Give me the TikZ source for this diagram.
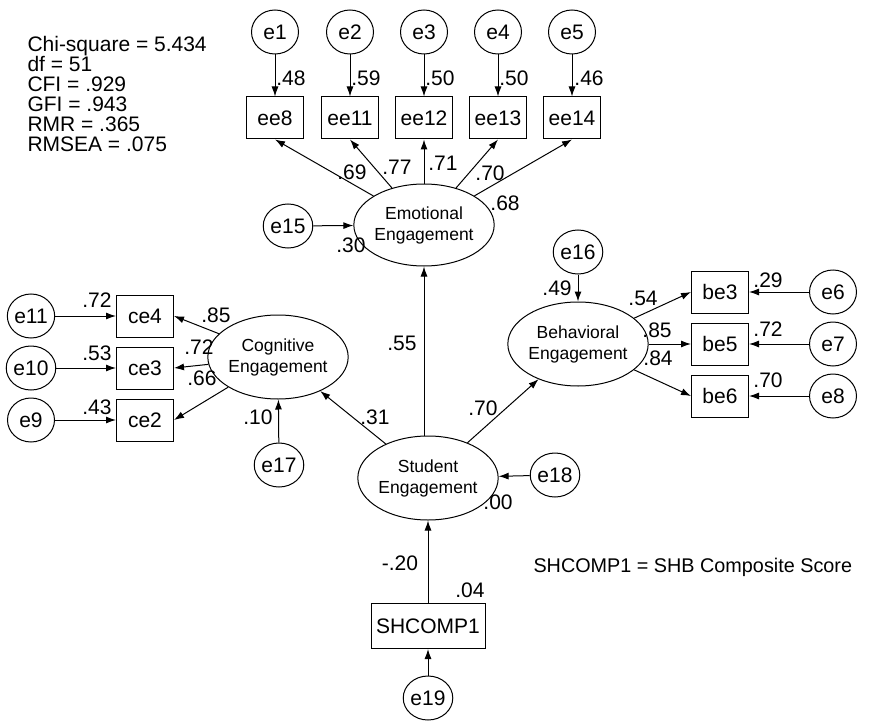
\documentclass[tikz,border=0pt]{standalone}
\usepackage{fontspec}
\setmainfont{Liberation Sans}
\usetikzlibrary{shapes.geometric,arrows.meta}
\tikzset{
  err/.style={draw,ellipse,minimum width=47pt,minimum height=44pt,inner sep=0pt,font=\fontsize{21}{21}\selectfont},
  obs/.style={draw,rectangle,minimum width=57pt,minimum height=42pt,inner sep=0pt,font=\fontsize{21}{21}\selectfont},
  lat/.style={draw,ellipse,minimum width=113pt,minimum height=84pt,inner sep=0pt,align=center,font=\fontsize{17.5}{21}\selectfont},
  lbl/.style={inner sep=0pt,font=\fontsize{21}{21}\selectfont},
  arr/.style={-{Latex[length=10pt,width=7pt]}},
}
\begin{document}
\begin{tikzpicture}[x=1pt,y=-1pt,line width=1pt]
\useasboundingbox (0,0) rectangle (893,722);
% fit statistics
\node[anchor=north west,inner sep=0pt,align=left,font=\fontsize{21}{20}\selectfont] (stats) at (27,35.5)
  {Chi-square = 5.434\\df = 51\\CFI = .929\\GFI = .943\\RMR = .365\\RMSEA = .075};
\node[anchor=base west,inner sep=0pt,font=\fontsize{19.8}{20}\selectfont] (note) at (533,572) {SHCOMP1 = SHB Composite Score};
% emotional engagement
\node[lat,minimum height=82pt] (EE) at (424,225) {Emotional\\Engagement};
\foreach \n/\x in {8/275,11/350,12/424,13/498,14/572}{
  \node[obs] (ee\n) at (\x,118) {ee\n};
}
\foreach \i/\x in {1/275,2/350,3/424,4/498,5/572}{
  \node[err] (e\i) at (\x,32) {e\i};
}
\draw[arr] (e1) -- (ee8);
\draw[arr] (e2) -- (ee11);
\draw[arr] (e3) -- (ee12);
\draw[arr] (e4) -- (ee13);
\draw[arr] (e5) -- (ee14);
\foreach \n in {8,11,12,13,14}{ \draw[arr] (EE) -- (ee\n.south); }
\node[err] (e15) at (288,226) {e15};
\draw[arr] (e15) -- (EE);
\node[lbl] (l1) at (291,78) {.48};
\node[lbl] (l2) at (366,78) {.59};
\node[lbl] (l3) at (440,78) {.50};
\node[lbl] (l4) at (514,78) {.50};
\node[lbl] (l5) at (589,78) {.46};
\node[lbl] (l6) at (352,172) {.69};
\node[lbl] (l7) at (397,167) {.77};
\node[lbl] (l8) at (443,163) {.71};
\node[lbl] (l9) at (490,173) {.70};
\node[lbl] (l10) at (505,203) {.68};
\node[lbl] (l11) at (351,245) {.30};
% cognitive engagement
\node[lat] (CE) at (278,357) {Cognitive\\Engagement};
\node[obs] (ce4) at (145,316) {ce4};
\node[obs] (ce3) at (145,368) {ce3};
\node[obs] (ce2) at (145,420) {ce2};
\node[err] (e11) at (31,316) {e11};
\node[err] (e10) at (31,368) {e10};
\node[err] (e9) at (31,420) {e9};
\draw[arr] (e11) -- (ce4);
\draw[arr] (e10) -- (ce3);
\draw[arr] (e9) -- (ce2);
\draw[arr] (CE) -- (ce4.east);
\draw[arr] (CE) -- (ce3.east);
\draw[arr] (CE) -- (ce2.east);
\node[err] (e17) at (279,465) {e17};
\draw[arr] (e17) -- (CE);
\node[lbl] (l12) at (97,300) {.72};
\node[lbl] (l13) at (97,353) {.53};
\node[lbl] (l14) at (97,407) {.43};
\node[lbl] (l15) at (216,315) {.85};
\node[lbl] (l16) at (199,347) {.72};
\node[lbl] (l17) at (202,378) {.66};
\node[lbl] (l18) at (258,417) {.10};
% behavioral engagement
\node[lat] (BE) at (578,344) {Behavioral\\Engagement};
\node[obs] (be3) at (720,292) {be3};
\node[obs] (be5) at (720,344) {be5};
\node[obs] (be6) at (720,396) {be6};
\node[err] (e6) at (833,292) {e6};
\node[err] (e7) at (833,344) {e7};
\node[err] (e8) at (833,396) {e8};
\node[err] (e16) at (578,252) {e16};
\draw[arr] (e16) -- (BE);
\draw[arr] (BE) -- (be3.west);
\draw[arr] (BE) -- (be5.west);
\draw[arr] (BE) -- (be6.west);
\draw[arr] (e6) -- (be3);
\draw[arr] (e7) -- (be5);
\draw[arr] (e8) -- (be6);
\node[lbl] (l19) at (557,288) {.49};
\node[lbl] (l20) at (643,298) {.54};
\node[lbl] (l21) at (657,330) {.85};
\node[lbl] (l22) at (658,358) {.84};
\node[lbl] (l23) at (768,280) {.29};
\node[lbl] (l24) at (768,329) {.72};
\node[lbl] (l25) at (768,380) {.70};
% student engagement
\node[lat] (SE) at (428,478) {Student\\Engagement};
\node[err] (e18) at (555,475) {e18};
\node[obs,minimum width=114pt,minimum height=45pt] (SH) at (428,626) {SHCOMP1};
\node[err] (e19) at (428,698) {e19};
\draw[arr] (SE.north -| EE.south) -- (EE.south);
\draw[arr] (SE) -- (CE);
\draw[arr] (SE) -- (BE);
\draw[arr] (e18) -- (SE);
\draw[arr] (SH) -- (SE);
\draw[arr] (e19) -- (SH);
\node[lbl] (l26) at (402,343) {.55};
\node[lbl] (l27) at (375,417) {.31};
\node[lbl] (l28) at (483,408) {.70};
\node[lbl] (l29) at (498,502) {.00};
\node[lbl] (l30) at (400,563) {-.20};
\node[lbl] (l31) at (470,590) {.04};
\end{tikzpicture}
\end{document}
